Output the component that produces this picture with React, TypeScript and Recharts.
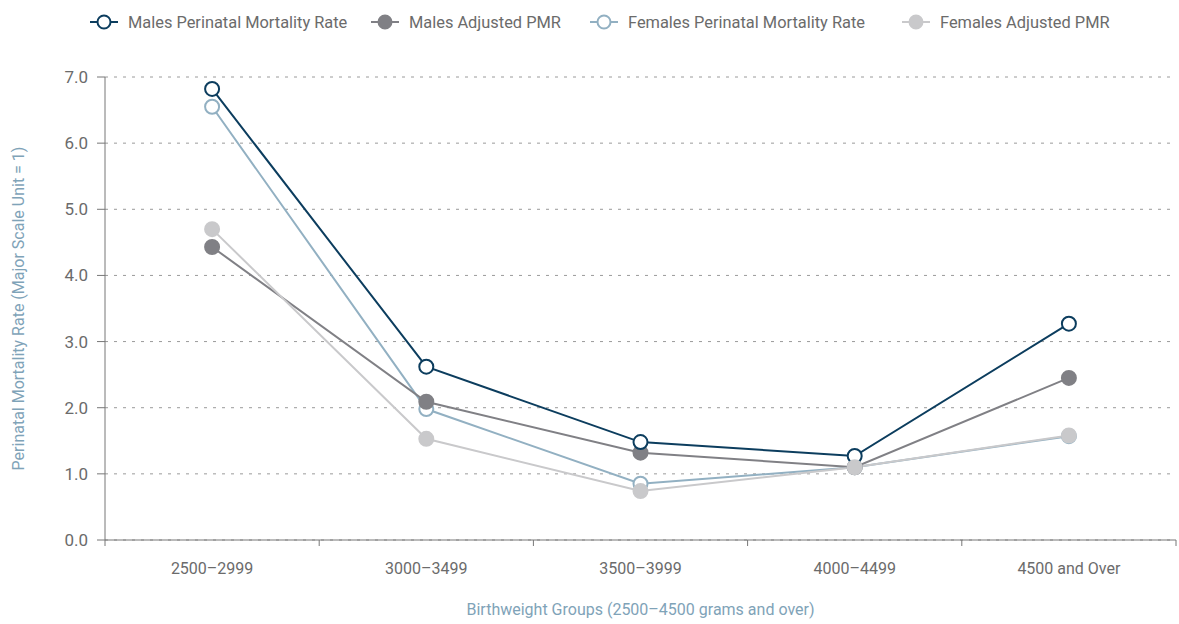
import { LineChart, Line, XAxis, YAxis, CartesianGrid, Legend } from 'recharts';

const categories = ['2500–2999', '3000–3499', '3500–3999', '4000–4499', '4500 and Over'];
const malesPmr = [6.82, 2.62, 1.48, 1.27, 3.27];
const malesAdjusted = [4.43, 2.09, 1.32, 1.1, 2.45];
const femalesPmr = [6.55, 1.98, 0.85, 1.1, 1.57];
const femalesAdjusted = [4.7, 1.53, 0.74, 1.1, 1.58];
const yTicks = [0, 1, 2, 3, 4, 5, 6, 7];

const data = categories.map((name, i) => ({
  name,
  x: i + 0.5,
  malesPmr: malesPmr[i],
  malesAdjusted: malesAdjusted[i],
  femalesPmr: femalesPmr[i],
  femalesAdjusted: femalesAdjusted[i],
}));

// boundaries get a tick mark, band centres get the category label
const xTicks = categories.flatMap((_, i) => [i, i + 0.5]).concat([categories.length]);

const FONT = 'Roboto, "Liberation Sans", sans-serif';
const TEXT = '#6b6b6b';
const AXIS_TITLE = '#7fa3b8';

const series = [
  { key: 'malesPmr', name: 'Males Perinatal Mortality Rate', color: '#0c3d5e', open: true },
  { key: 'malesAdjusted', name: 'Males Adjusted PMR', color: '#808085', open: false },
  { key: 'femalesPmr', name: 'Females Perinatal Mortality Rate', color: '#92b0c2', open: true },
  { key: 'femalesAdjusted', name: 'Females Adjusted PMR', color: '#c9c9cb', open: false },
];
const legendItemWidths = [281, 219, 312, 260];
// draw order so the overlapping markers stack like the original
const drawOrder = ['femalesPmr', 'malesAdjusted', 'malesPmr', 'femalesAdjusted'];

function XTick({ x, y, payload }: any) {
  const v = payload.value;
  if (Number.isInteger(v)) {
    return <line x1={x} x2={x} y1={y} y2={y + 6} stroke="#777" strokeWidth={1} />;
  }
  return (
    <text x={x} y={y + 34} textAnchor="middle" fill={TEXT} fontSize={16} fontFamily={FONT}>
      {categories[Math.floor(v)]}
    </text>
  );
}

function LegendContent() {
  return (
    <div style={{ display: 'flex', alignItems: 'center', paddingLeft: 90, height: 30, fontFamily: FONT, fontSize: 16.4, color: TEXT }}>
      {series.map((s, i) => (
        <div key={s.key} style={{ display: 'flex', alignItems: 'center', width: legendItemWidths[i], flex: 'none' }}>
          <svg width={28} height={16} style={{ marginRight: 10 }}>
            <line x1={0} x2={28} y1={8} y2={8} stroke={s.color} strokeWidth={2} />
            <circle cx={14} cy={8} r={6.5} fill={s.open ? '#fff' : s.color} stroke={s.color} strokeWidth={2} />
          </svg>
          <span style={{ whiteSpace: 'nowrap' }}>{s.name}</span>
        </div>
      ))}
    </div>
  );
}

export default function App() {
  return (
    <div style={{ position: 'absolute', left: 0, top: 0, background: '#fff' }}>
      <LineChart width={1179} height={624} data={data} margin={{ top: 47, right: 3, bottom: 0, left: 0 }}>
        <Legend verticalAlign="top" align="left" content={<LegendContent />} wrapperStyle={{ top: 7, left: 0 }} />
        <CartesianGrid vertical={false} stroke="#9a9a9a" strokeDasharray="3 6" />
        <XAxis
          dataKey="x"
          type="number"
          domain={[0, categories.length]}
          ticks={xTicks}
          interval={0}
          tickLine={false}
          tickSize={0}
          tickMargin={0}
          tick={<XTick />}
          axisLine={{ stroke: '#777' }}
          height={84}
          label={{
            value: 'Birthweight Groups (2500–4500 grams and over)',
            position: 'insideBottom',
            offset: 9,
            fill: AXIS_TITLE,
            fontSize: 16,
            fontFamily: FONT,
          }}
        />
        <YAxis
          domain={[0, 7]}
          ticks={yTicks}
          interval={0}
          width={105}
          tickFormatter={(v: number) => v.toFixed(1)}
          tick={{ fill: TEXT, fontSize: 17, fontFamily: FONT }}
          tickSize={8}
          tickMargin={9}
          tickLine={{ stroke: '#777' }}
          axisLine={{ stroke: '#777' }}
          label={{
            value: 'Perinatal Mortality Rate (Major Scale Unit = 1)',
            angle: -90,
            position: 'insideLeft',
            offset: 18,
            style: { textAnchor: 'middle' },
            fill: AXIS_TITLE,
            fontSize: 16,
            fontFamily: FONT,
          }}
        />
        {drawOrder.map((k) => {
          const s = series.find((d) => d.key === k)!;
          return (
            <Line
              key={s.key}
              type="linear"
              dataKey={s.key}
              name={s.name}
              stroke={s.color}
              strokeWidth={2}
              dot={{ r: 7, fill: s.open ? '#fff' : s.color, stroke: s.color, strokeWidth: 2 }}
              activeDot={false}
              isAnimationActive={false}
            />
          );
        })}
      </LineChart>
    </div>
  );
}
